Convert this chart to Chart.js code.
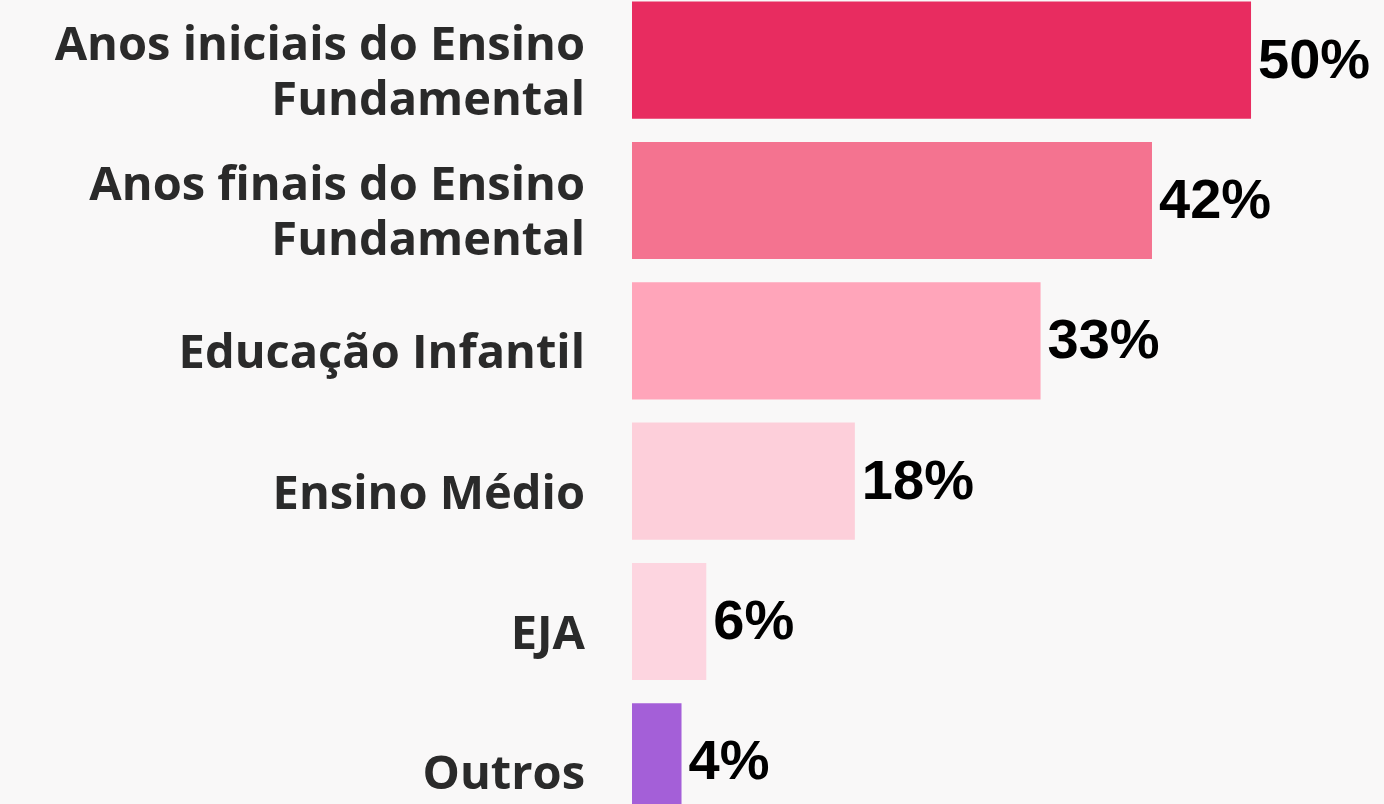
<!DOCTYPE html>
<html>
<head>
<meta charset="utf-8">
<script src="https://cdn.jsdelivr.net/npm/chart.js@4/dist/chart.umd.min.js"></script>
<style>
  html, body { margin: 0; padding: 0; width: 1384px; height: 804px; overflow: hidden; background: #f9f8f8; }
  #wrap { position: absolute; left: 0; top: -10px; width: 1384px; height: 842px; }
</style>
</head>
<body>
<div id="wrap"><canvas id="c"></canvas></div>
<script>
const categories = [
  ['Anos iniciais do Ensino', 'Fundamental'],
  ['Anos finais do Ensino', 'Fundamental'],
  'Educação Infantil',
  'Ensino Médio',
  'EJA',
  'Outros'
];
const values = [50, 42, 33, 18, 6, 4];
const valueLabels = ['50%', '42%', '33%', '18%', '6%', '4%'];
const barColors = ['#e82c60', '#f47390', '#ffa5ba', '#fdcfda', '#fdd5e0', '#a45fd8'];

const valueLabelPlugin = {
  id: 'valueLabels',
  afterDatasetsDraw(chart) {
    const ctx = chart.ctx;
    const meta = chart.getDatasetMeta(0);
    ctx.save();
    ctx.font = 'bold 56px "Liberation Sans", Arial, sans-serif';
    ctx.fillStyle = '#000000';
    ctx.textAlign = 'left';
    ctx.textBaseline = 'middle';
    meta.data.forEach((bar, i) => {
      ctx.fillText(valueLabels[i], bar.x + 7, bar.y + 2);
    });
    ctx.restore();
  }
};

new Chart(document.getElementById('c'), {
  type: 'bar',
  data: {
    labels: categories,
    datasets: [{
      data: values,
      backgroundColor: barColors,
      borderWidth: 0,
      barPercentage: 0.835,
      categoryPercentage: 1.0
    }]
  },
  options: {
    indexAxis: 'y',
    responsive: true,
    maintainAspectRatio: false,
    animation: false,
    layout: { padding: 0 },
    plugins: { legend: { display: false }, tooltip: { enabled: false } },
    scales: {
      x: { display: false, min: 0, max: 60.74 },
      y: {
        grid: { display: false, drawTicks: false },
        border: { display: false },
        ticks: {
          color: '#2a2a2a',
          padding: 47,
          labelOffset: 14,
          font: { family: '"Open Sans"', weight: 'bold', size: 47, lineHeight: 1.17 }
        },
        afterFit(scale) {
          scale.width = 632;
          scale.paddingTop = 0;
          scale.paddingBottom = 0;
        }
      }
    }
  },
  plugins: [valueLabelPlugin]
});
</script>
</body>
</html>
